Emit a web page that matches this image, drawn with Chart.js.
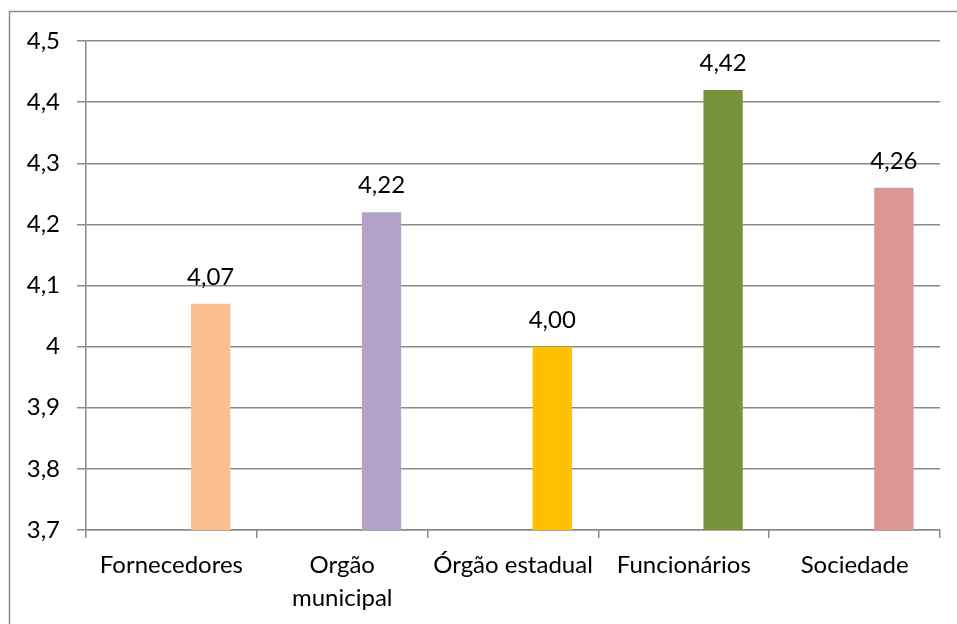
<!DOCTYPE html>
<html>
<head>
<meta charset="utf-8">
<script src="https://cdn.jsdelivr.net/npm/chart.js@4.4.1/dist/chart.umd.min.js"></script>
<style>
  html, body { margin: 0; padding: 0; background: #ffffff; }
  #wrap { width: 957px; height: 624px; position: relative; }
</style>
</head>
<body>
<div id="wrap"><canvas id="c" width="957" height="624"></canvas></div>
<script>
const categories = ['Fornecedores', ['Orgão', 'municipal'], 'Órgão estadual', 'Funcionários', 'Sociedade'];
const scores = [4.07, 4.22, 4.00, 4.42, 4.26];
const barColors = ['#FAC090', '#B3A2C7', '#FFC000', '#77933C', '#D99694'];
const yMin = 3.7, yMax = 4.5, yStep = 0.1;

const FONT = 'Lato, "Open Sans", sans-serif';
const GRID = '#8a8a8a';
const fmtTick = new Intl.NumberFormat('pt-BR', { maximumFractionDigits: 1 });
const fmtLabel = new Intl.NumberFormat('pt-BR', { minimumFractionDigits: 2, maximumFractionDigits: 2 });

// Outer frame of the chart area
const framePlugin = {
  id: 'frame',
  beforeDraw(chart) {
    const ctx = chart.ctx;
    ctx.save();
    ctx.fillStyle = '#ffffff';
    ctx.fillRect(0, 0, chart.width, chart.height);
    ctx.strokeStyle = GRID;
    ctx.lineWidth = 1.5;
    ctx.strokeRect(9.5, 11.5, chart.width + 20, chart.height + 20);
    ctx.restore();
  }
};

// Value labels above each bar
const valueLabels = {
  id: 'valueLabels',
  afterDatasetsDraw(chart) {
    const ctx = chart.ctx;
    const idx = chart.data.datasets.length - 1;
    const meta = chart.getDatasetMeta(idx);
    ctx.save();
    ctx.font = '24px ' + FONT;
    ctx.fillStyle = '#000000';
    ctx.textAlign = 'center';
    ctx.textBaseline = 'alphabetic';
    meta.data.forEach((bar, i) => {
      ctx.fillText(fmtLabel.format(scores[i]), bar.x, bar.y - 19);
    });
    ctx.restore();
  }
};

new Chart(document.getElementById('c'), {
  type: 'bar',
  data: {
    labels: categories,
    datasets: [
      { data: categories.map(() => null), backgroundColor: barColors },
      { data: categories.map(() => null), backgroundColor: barColors },
      { data: scores, backgroundColor: barColors, borderWidth: 0 }
    ]
  },
  options: {
    responsive: false,
    animation: false,
    devicePixelRatio: 1,
    layout: { padding: { top: 41, right: 17, left: 0, bottom: 0 } },
    plugins: { legend: { display: false }, tooltip: { enabled: false } },
    datasets: { bar: { categoryPercentage: 0.69, barPercentage: 1 } },
    scales: {
      x: {
        offset: true,
        grid: { offset: true, drawOnChartArea: false, drawTicks: true, tickLength: 8, color: GRID, lineWidth: 1.5 },
        border: { color: GRID, width: 1.5 },
        ticks: { color: '#000000', font: { family: FONT, size: 24, lineHeight: 1.4 }, padding: 10, maxRotation: 0, autoSkip: false },
        afterFit(scale) { scale.height = 94; }
      },
      y: {
        min: yMin,
        max: yMax,
        grid: { color: GRID, lineWidth: 1.5, drawTicks: true, tickLength: 9 },
        border: { color: GRID, width: 1.5 },
        ticks: {
          stepSize: yStep,
          color: '#000000',
          font: { family: FONT, size: 24 },
          padding: 17,
          callback: v => fmtTick.format(Math.round(v * 10) / 10)
        },
        afterFit(scale) { scale.width = 86; }
      }
    }
  },
  plugins: [framePlugin, valueLabels]
});
</script>
</body>
</html>
